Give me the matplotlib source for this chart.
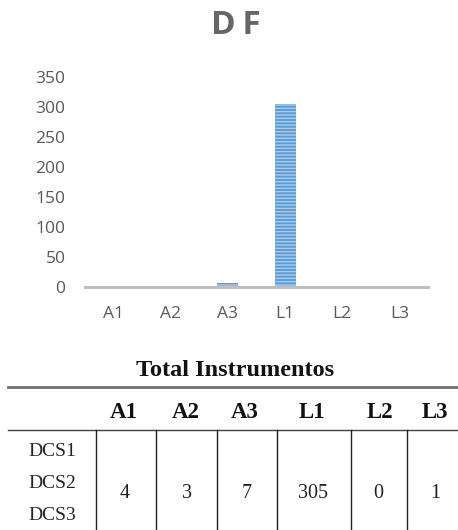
import matplotlib
matplotlib.use("Agg")
import matplotlib.pyplot as plt
from matplotlib.lines import Line2D

categories = ["A1", "A2", "A3", "L1", "L2", "L3"]
chart_values = [0, 0, 7, 305, 0, 1]
table_values = [4, 3, 7, 305, 0, 1]
yticks = [0, 50, 100, 150, 200, 250, 300, 350]
row_labels = ["DCS1", "DCS2", "DCS3"]
table_title = "Total Instrumentos"
chart_title = "DF"

plt.rcParams["hatch.linewidth"] = 1.0
W, H = 458, 530
fig = plt.figure(figsize=(W / 100, H / 100), dpi=100)

def fx(x):
    return x / W

def fy(y):
    return 1 - y / H

# chart axes
left, right, top, bottom = 85, 428, 77, 287
ax = fig.add_axes([fx(left), fy(bottom), (right - left) / W, (bottom - top) / H])
x = list(range(len(categories)))
ax.bar(x, chart_values, width=0.37, color="#5b9bd5", edgecolor="#a9cdee", hatch="-----",
       linewidth=0, zorder=2)
ax.set_xlim(-0.5, len(categories) - 0.5)
ax.set_ylim(0, 350)
ax.set_yticks(yticks)
ax.set_xticks(x)
ax.set_xticklabels(categories)
for s in ["top", "right", "left"]:
    ax.spines[s].set_visible(False)
ax.spines["bottom"].set_color("#bfbfbf")
ax.spines["bottom"].set_linewidth(2.2)
ax.spines["bottom"].set_zorder(3)
ax.tick_params(axis="both", length=0, labelsize=12.5, labelcolor="#595959")
ax.tick_params(axis="x", pad=14)
ax.tick_params(axis="y", pad=14)
for lab in ax.get_xticklabels() + ax.get_yticklabels():
    lab.set_fontfamily("Open Sans")

fig.text(fx(236), fy(26), "\u2009".join(chart_title), ha="center", va="center", fontsize=24,
         fontweight="bold", color="#666666", family=["Open Sans", "DejaVu Sans"])

# table
serif = "Liberation Serif"
fig.text(fx(235), fy(371), table_title, ha="center", va="center", fontsize=17.5,
         fontweight="bold", family=serif, color="#111111")
fig.add_artist(Line2D([fx(8), fx(458)], [fy(387), fy(387)], color="#707070", lw=2))
fig.add_artist(Line2D([fx(8), fx(458)], [fy(430), fy(430)], color="#404040", lw=1))
col_lines = [96, 156, 217, 277, 351, 407]
for cx in col_lines:
    fig.add_artist(Line2D([fx(cx), fx(cx)], [fy(430), fy(530)], color="#202020", lw=1))
head_x = [124, 186, 245, 312, 380, 435]
val_x = [125, 187, 247, 313, 378, 435]
for hx, c in zip(head_x, categories):
    fig.text(fx(hx), fy(412), c, ha="center", va="center", fontsize=16.5,
             fontweight="bold", family=serif, color="#111111")
for vx, v in zip(val_x, table_values):
    fig.text(fx(vx), fy(493), str(v), ha="center", va="center", fontsize=14.5,
             family=serif, color="#222222")
for i, r in enumerate(row_labels):
    fig.text(fx(52), fy(452 + 31.5 * i), r, ha="center", va="center", fontsize=14,
             family=serif, color="#222222")

fig.savefig("out.png", dpi=100)
